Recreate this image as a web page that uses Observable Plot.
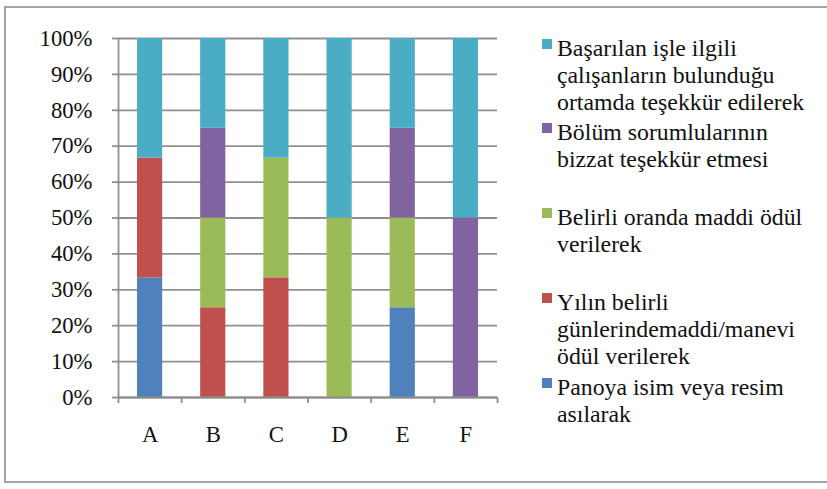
<!DOCTYPE html>
<html>
<head>
<meta charset="utf-8">
<script src="https://cdn.jsdelivr.net/npm/d3@7"></script>
<script src="https://cdn.jsdelivr.net/npm/@observablehq/plot@0.6"></script>
<style>
  html, body { margin: 0; padding: 0; background: #fff; }
  #wrap { position: relative; width: 827px; height: 489px; overflow: hidden; }
  #frame { position: absolute; left: 4px; top: 6px; width: 840px; height: 477px; border: 2px solid #a3a3a3; box-sizing: border-box; }
  #chart { position: absolute; left: 0; top: 0; }
  #legend { position: absolute; left: 0; top: 0; }
  .entry { position: absolute; left: 557px; line-height: 27px; color: #111; white-space: nowrap; }
  .sw { position: absolute; left: -15px; top: 4px; width: 10px; height: 10px; }
</style>
</head>
<body>
<div id="wrap">
  <div id="frame"></div>
  <div id="chart"></div>
  <div id="legend"></div>
</div>
<script>
const categories = ["A", "B", "C", "D", "E", "F"];
const seriesNames = [
  "Panoya isim veya resim asılarak",
  "Yılın belirli günlerindemaddi/manevi ödül verilerek",
  "Belirli oranda maddi ödül verilerek",
  "Bölüm sorumlularının bizzat teşekkür etmesi",
  "Başarılan işle ilgili çalışanların bulunduğu ortamda teşekkür edilerek"
];
const legendLines = [
  ["Panoya isim veya resim", "asılarak"],
  ["Yılın belirli", "günlerindemaddi/manevi", "ödül verilerek"],
  ["Belirli oranda maddi ödül", "verilerek"],
  ["Bölüm sorumlularının", "bizzat teşekkür etmesi"],
  ["Başarılan işle ilgili", "çalışanların bulunduğu", "ortamda teşekkür edilerek"]
];
const colors = ["#4F81BD", "#C0504D", "#9BBB59", "#8064A2", "#4BACC6"];
// percentages per category A..F
const panoya    = [33.3, 0,    0,    0,  25, 0];
const yilin     = [33.3, 25,   33.3, 0,  0,  0];
const belirli   = [0,    25,   33.3, 50, 25, 0];
const bolum     = [0,    25,   0,    0,  25, 50];
const basarilan = [33.3, 25,   33.3, 50, 25, 50];
const yTicks = [0, 10, 20, 30, 40, 50, 60, 70, 80, 90, 100];

const seriesValues = [panoya, yilin, belirli, bolum, basarilan];
const table = [];
seriesValues.forEach((vals, s) => {
  vals.forEach((v, i) => {
    table.push({ series: seriesNames[s], i: i, i2: i + 1, value: v });
  });
});

// pick a serif family and size text so its width matches the reference
const family = '"Liberation Serif", Tinos, "Times New Roman", Times, "Nimbus Roman", "Nimbus Roman No9 L", "DejaVu Serif", "Noto Serif", serif';
const ctx = document.createElement("canvas").getContext("2d");
function fitSize(text, targetWidth) {
  ctx.font = "100px " + family;
  return Math.round(targetWidth / ctx.measureText(text).width * 1000) / 10;
}
const tickFont = Math.min(24, fitSize("100%", 53));
const legendFont = Math.min(25, fitSize("ortamda teşekkür edilerek", 247));

const gray = "#8f8f8f";
const chart = Plot.plot({
  width: 827,
  height: 489,
  marginLeft: 118,
  marginRight: 330,
  marginTop: 38,
  marginBottom: 92,
  x: { type: "linear", domain: [0, categories.length] },
  y: { domain: [0, 1] },
  color: { domain: seriesNames, range: colors },
  style: { fontFamily: family, fontSize: tickFont + "px", color: "#111", background: "transparent", overflow: "visible" },
  marks: [
    Plot.gridY(yTicks.map(t => t / 100), { stroke: gray, strokeOpacity: 1, strokeWidth: 1.8 }),
    Plot.rectY(table, {
      x1: "i", x2: "i2", y: "value", fill: "series",
      offset: "normalize", order: seriesNames,
      insetLeft: 19, insetRight: 19
    }),
    Plot.ruleY([0], { stroke: gray, strokeWidth: 1.8 }),
    Plot.ruleX([0], { stroke: gray, strokeWidth: 1.8 }),
    Plot.axisY({
      ticks: yTicks.map(t => t / 100),
      tickFormat: d => Math.round(d * 100) + "%",
      tickSize: 6, tickPadding: 20, label: null,
      stroke: gray, strokeWidth: 1.8, fill: "#111", fontSize: tickFont
    }),
    Plot.axisX({
      ticks: d3.range(categories.length + 1),
      tickFormat: () => "", label: null,
      tickSize: 6, stroke: gray, strokeWidth: 1.8
    }),
    Plot.axisX({
      ticks: categories.map((c, i) => i + 0.5),
      tickFormat: v => categories[Math.floor(v)], label: null,
      tickSize: 0, tickPadding: 28, fill: "#111", fontSize: tickFont
    })
  ]
});
document.getElementById("chart").appendChild(chart);

// legend (top entry = last stacked series)
const legend = document.getElementById("legend");
legend.style.fontFamily = family;
legend.style.fontSize = legendFont + "px";
const order = [4, 3, 2, 1, 0];
order.forEach((s, k) => {
  const e = document.createElement("div");
  e.className = "entry";
  e.style.top = (34.5 + k * 84.75) + "px";
  const sw = document.createElement("div");
  sw.className = "sw";
  sw.style.background = colors[s];
  e.appendChild(sw);
  legendLines[s].forEach((line, j) => {
    if (j > 0) e.appendChild(document.createElement("br"));
    e.appendChild(document.createTextNode(line));
  });
  legend.appendChild(e);
});
</script>
</body>
</html>
